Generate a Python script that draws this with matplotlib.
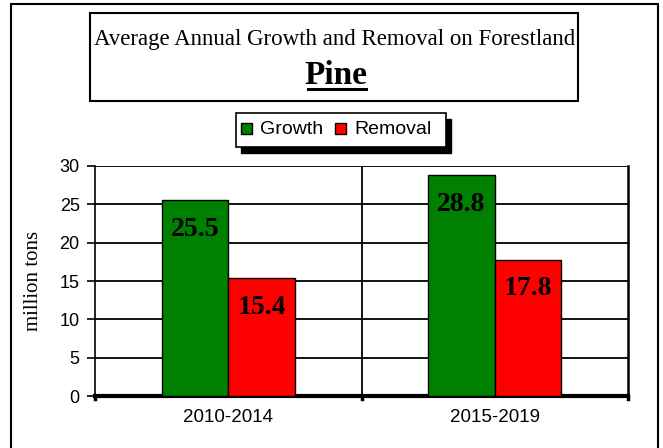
import matplotlib.pyplot as plt
from matplotlib.patches import Rectangle
import numpy as np

periods = ["2010-2014", "2015-2019"]
growth = [25.5, 28.8]
removal = [15.4, 17.8]
yticks = [0, 5, 10, 15, 20, 25, 30]

W, H = 663, 448
fig = plt.figure(figsize=(W / 100, H / 100), dpi=100)
fig.patch.set_facecolor("white")


def px(x, y):
    # pixel coords (top-left origin) -> figure fraction
    return x / W, 1 - y / H


# outer border (runs off the bottom edge)
x0, y0 = px(11, 4)
fig.patches.append(Rectangle((x0, -0.1), 647 / W, y0 + 0.1, transform=fig.transFigure,
                             fill=False, ec="black", lw=1.5, clip_on=False))

# title box
bx, by = px(90, 101)
fig.patches.append(Rectangle((bx, by), 488 / W, 88 / H, transform=fig.transFigure,
                             fill=False, ec="black", lw=1.5))
fig.text(*px(335, 40), "Average Annual Growth and Removal on Forestland",
         family="Liberation Serif", fontsize=16.5, ha="center", va="center")
fig.text(*px(336, 75), "Pine", family="Liberation Serif", fontsize=24,
         fontweight="bold", ha="center", va="center")
ux0, uy = px(308, 89)
ux1, _ = px(366, 89)
fig.add_artist(plt.Line2D([ux0, ux1], [uy, uy], color="black", lw=2.2,
                          transform=fig.transFigure))

ax = fig.add_axes([95 / W, 1 - 396 / H, 533 / W, 230 / H])
x = np.arange(len(periods))
w = 0.25
gb = ax.bar(x - w / 2, growth, w, color="#008000", ec="black", lw=1, label="Growth", zorder=3)
rb = ax.bar(x + w / 2, removal, w, color="#ff0000", ec="black", lw=1, label="Removal", zorder=3)

for bars, vals in ((gb, growth), (rb, removal)):
    for b, v in zip(bars, vals):
        ax.annotate(f"{v}", (b.get_x() + b.get_width() / 2, v), xytext=(0, -12),
                    textcoords="offset points", ha="center", va="top",
                    family="Liberation Serif", fontsize=20, fontweight="bold", zorder=4)

ax.set_xlim(-0.5, len(periods) - 0.5)
ax.set_ylim(0, 30)
ax.set_yticks(yticks)
ax.set_yticklabels([str(t) for t in yticks], family="Liberation Sans", fontsize=13)
ax.yaxis.grid(True, color="black", lw=1.3, zorder=1)
ax.axvline(0.5, color="black", lw=1.3, zorder=1)
ax.set_xticks(x)
ax.set_xticklabels(periods, family="Liberation Sans", fontsize=13.5)
ax.tick_params(axis="x", length=0, pad=9)
ax.tick_params(axis="y", length=6, width=1.2, direction="out", pad=5)
for b in [-0.5, 0.5, 1.5]:
    ax.plot([b, b], [0, -0.35], color="black", lw=2.5, clip_on=False, zorder=5)
ax.spines["top"].set_visible(False)
ax.spines["left"].set_linewidth(1.2)
ax.spines["right"].set_linewidth(1.8)
ax.spines["bottom"].set_linewidth(3)
ax.set_ylabel("million tons", family="Liberation Serif", fontsize=15, labelpad=12)

# legend with drop shadow
lx, ly = px(236, 147)
lw_, lh = 210 / W, 34 / H
fig.patches.append(Rectangle((lx + 5 / W, ly - 6 / H), lw_, lh, transform=fig.transFigure,
                             fc="black", ec="black", zorder=1))
fig.patches.append(Rectangle((lx, ly), lw_, lh, transform=fig.transFigure,
                             fc="white", ec="black", lw=1.2, zorder=2))
for mx, col, lab in ((247, "#008000", "Growth"), (341, "#ff0000", "Removal")):
    fig.patches.append(Rectangle(px(mx - 6, 134), 11 / W, 11 / H, transform=fig.transFigure,
                                 fc=col, ec="black", lw=1, zorder=3))
    fig.text(*px(mx + 13, 129), lab, family="Liberation Sans", fontsize=14,
             ha="left", va="center", zorder=4)

fig.savefig("out.png", dpi=100)
